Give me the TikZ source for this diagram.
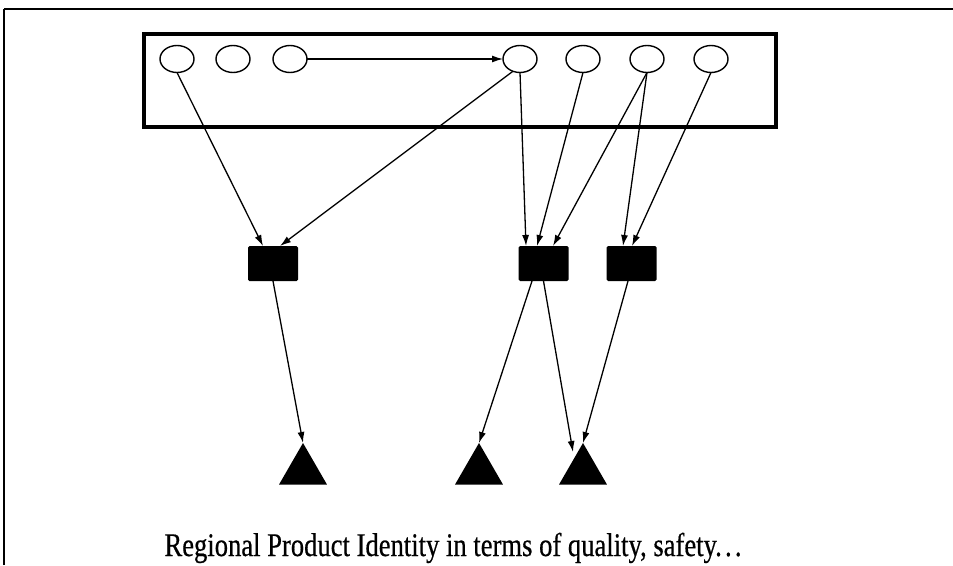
\documentclass[tikz,border=0pt]{standalone}
\usepackage{fontspec}
\setmainfont{Liberation Serif}
\newfontfamily\captionfont[FakeBold=0.6]{Liberation Serif}
\usepackage{graphicx}
\usetikzlibrary{arrows.meta,shapes.geometric,calc}

\tikzset{
  circ/.style={draw, ellipse, line width=1.4pt, minimum width=34pt, minimum height=27pt, inner sep=0pt, outer sep=0pt},
  blk/.style={fill=black, rectangle, rounded corners=1.5pt, minimum width=50pt, minimum height=35pt, inner sep=0pt, outer sep=0pt},
  tri/.style={fill=black, regular polygon, regular polygon sides=3, minimum size=55.4pt, inner sep=0pt, outer sep=0pt},
  groupbox/.style={draw, rectangle, line width=4pt, minimum width=632pt, minimum height=93pt, inner sep=0pt},
  arr/.style={line width=1.3pt, -{Latex[length=11pt,width=7pt]}}
}

\begin{document}
\begin{tikzpicture}[x=1pt,y=-1pt]
  \useasboundingbox (0,0) rectangle (953,565);

  % page frame (top and left edges)
  \coordinate (fbl) at (4,565);
  \coordinate (ftl) at (4,9);
  \coordinate (ftr) at (953,9);
  \draw[line width=1.5pt] (fbl) -- (ftl);
  \draw[line width=2.5pt] (ftl) -- (ftr);

  % group of input variables
  \node[groupbox] (group) at (460,80.5) {};
  \node[circ] (c1) at (177,59) {};
  \node[circ] (c2) at (233,59) {};
  \node[circ] (c3) at (290,59) {};
  \node[circ] (c4) at (520,59) {};
  \node[circ] (c5) at (583,59) {};
  \node[circ] (c6) at (647,59) {};
  \node[circ] (c7) at (711,59) {};

  % intermediate blocks
  \node[blk] (s1) at (273,263.5) {};
  \node[blk] (s2) at (543.5,263.5) {};
  \node[blk] (s3) at (631.5,263.5) {};

  % outputs
  \node[tri] (t1) at (303,470.7) {};
  \node[tri] (t2) at (479,470.7) {};
  \node[tri] (t3) at (583,470.7) {};

  % connectors
  \draw[arr] (c3.east) -- (c4.west);
  \draw[arr] (c1.south) -- ([xshift=-10pt]s1.north);
  \draw[arr] (c4.240) -- ([xshift=7pt]s1.north);
  \draw[arr] (c4.south) -- ([xshift=-17.5pt]s2.north);
  \draw[arr] (c5.south) -- ([xshift=-6.5pt]s2.north);
  \draw[arr] (c6.south) -- ([xshift=9.5pt]s2.north);
  \draw[arr] (c6.south) -- ([xshift=-8.5pt]s3.north);
  \draw[arr] (c7.south) -- ([xshift=0.5pt]s3.north);

  \draw[arr] (s1.south) -- (t1.corner 1);
  \draw[arr] ([xshift=-11.5pt]s2.south) -- (t2.corner 1);
  \draw[arr] (s2.south) -- ([xshift=-10pt,yshift=-9pt]t3.corner 1);
  \draw[arr] ([xshift=-3.5pt]s3.south) -- (t3.corner 1);

  % caption
  \node[anchor=base, inner sep=0pt] (caption) at (453,556)
    {\resizebox{577pt}{\height}{\captionfont\fontsize{33}{38}\selectfont Regional Product Identity in terms of quality, safety.\kern4pt.\kern4pt.}};
\end{tikzpicture}
\end{document}
